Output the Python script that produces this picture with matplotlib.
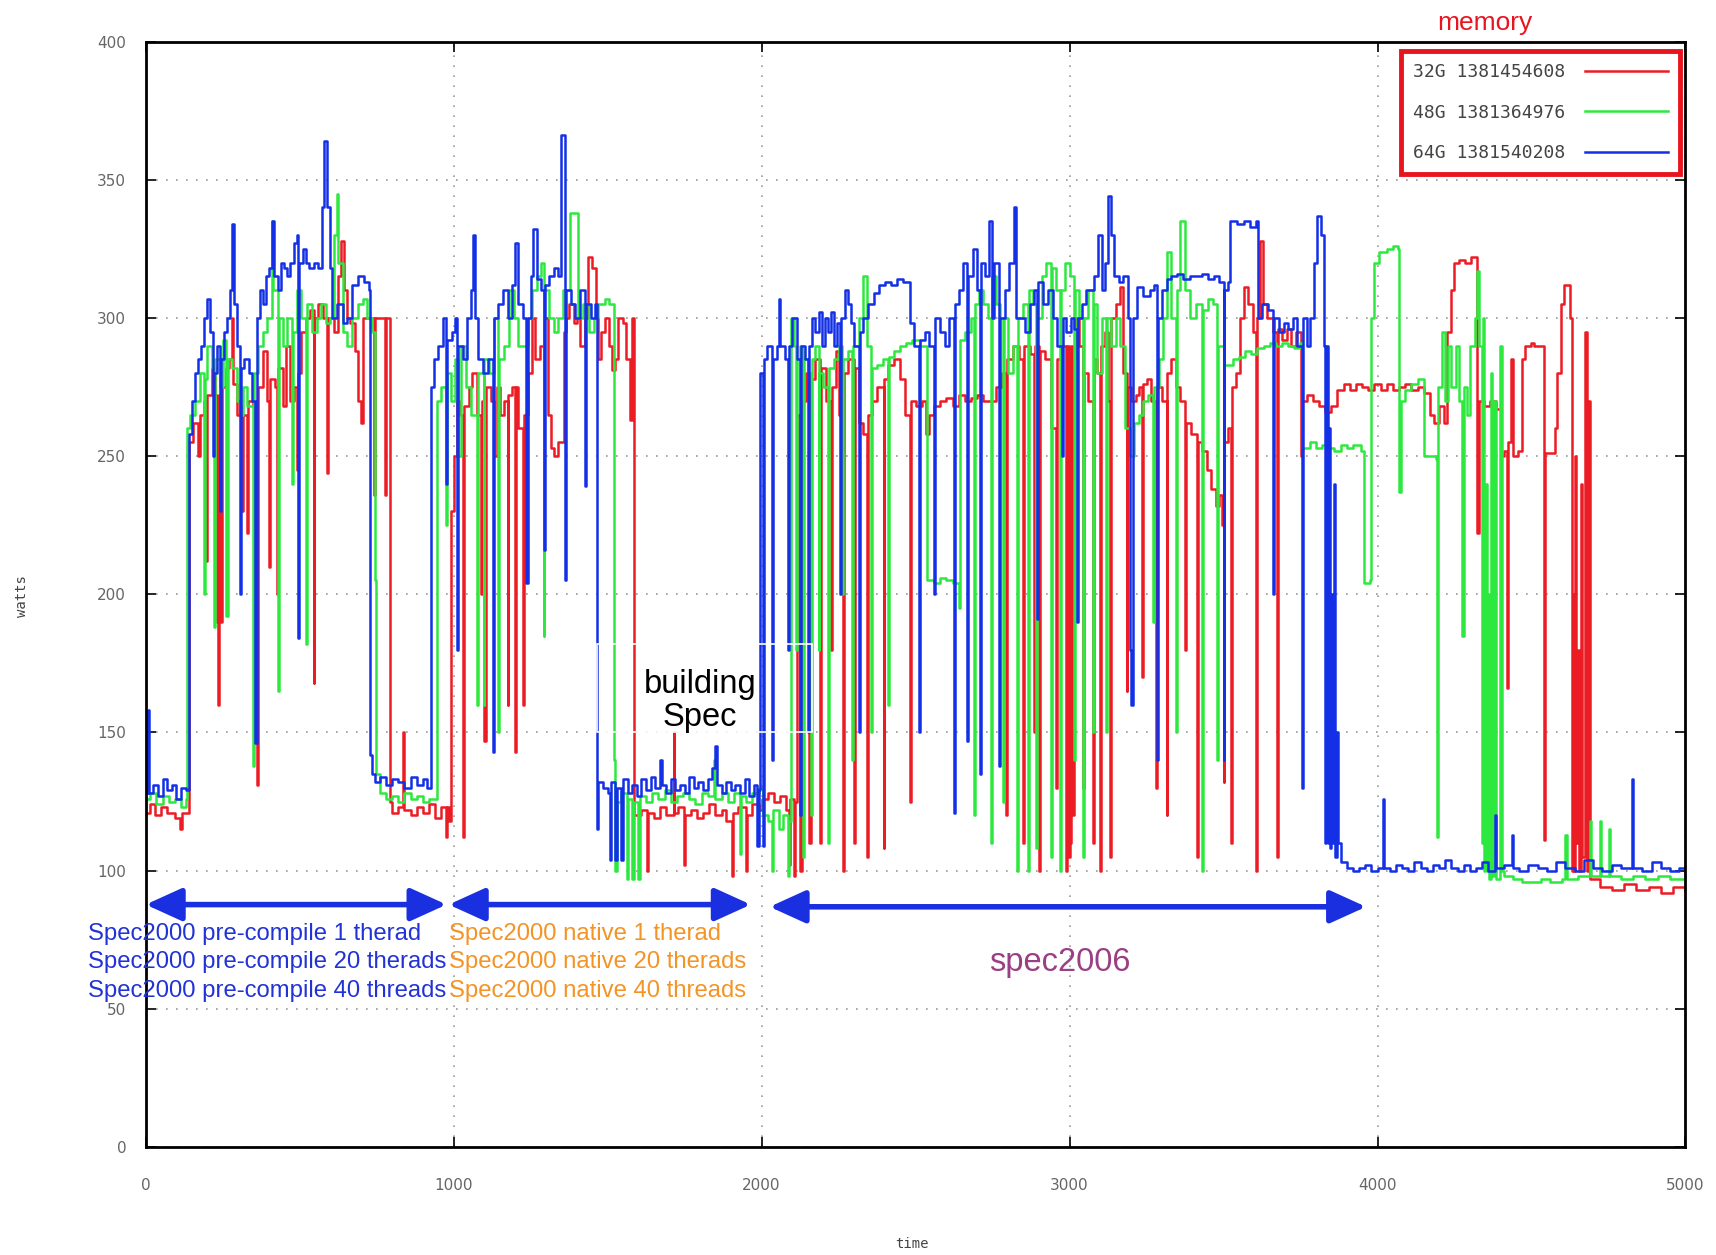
import matplotlib
matplotlib.use("Agg")
import matplotlib.pyplot as plt
from matplotlib.patches import Rectangle

# (time, watts) breakpoints, drawn as steps
red_pts = [
    (0, 121), (15, 124), (30, 120), (50, 123), (70, 121), (95, 119), (110, 115), (118, 121), (138, 121),
    (140, 255), (155, 262), (170, 250), (175, 265), (190, 270), (197, 212), (200, 272), (215, 282),
    (225, 272), (232, 190), (235, 160), (238, 272), (244, 190), (247, 275), (260, 282), (270, 285),
    (280, 300), (284, 276), (295, 265), (305, 268), (312, 230), (315, 265), (330, 222), (333, 270),
    (350, 268), (363, 131), (366, 275), (380, 288), (395, 270), (400, 210), (403, 278), (420, 275),
    (427, 200), (430, 282), (445, 268), (455, 290), (470, 270), (480, 275), (490, 245), (493, 280),
    (505, 295), (520, 300), (535, 303), (545, 168), (548, 300), (560, 305), (575, 300), (590, 244),
    (593, 300), (610, 295), (625, 315), (635, 328), (645, 310), (655, 300), (665, 298), (680, 288),
    (690, 270), (700, 262), (705, 300), (720, 300), (735, 300), (740, 236), (745, 300), (760, 300),
    (775, 300), (778, 236), (781, 300), (790, 300), (792, 125), (800, 121), (820, 123), (835, 150),
    (838, 122), (860, 120), (880, 123), (900, 121), (920, 124), (940, 119), (960, 123), (975, 112),
    (980, 123), (985, 118), (990, 230), (1000, 250), (1010, 270), (1020, 265), (1030, 112), (1035, 268),
    (1050, 275), (1060, 280), (1075, 265), (1090, 200), (1093, 270), (1100, 147), (1105, 275),
    (1120, 270), (1130, 250), (1140, 275), (1150, 265), (1165, 270), (1175, 160), (1178, 272),
    (1190, 275), (1200, 143), (1203, 275), (1210, 260), (1225, 160), (1228, 265), (1240, 280),
    (1255, 300), (1265, 285), (1280, 290), (1295, 300), (1305, 265), (1315, 253), (1325, 250),
    (1340, 255), (1357, 295), (1365, 300), (1375, 305), (1390, 298), (1400, 300), (1410, 290),
    (1425, 300), (1435, 322), (1450, 318), (1462, 300), (1470, 285), (1480, 295), (1490, 300),
    (1505, 290), (1515, 281), (1525, 285), (1535, 300), (1550, 298), (1560, 285), (1573, 263),
    (1580, 300), (1585, 120), (1610, 122), (1628, 100), (1631, 121), (1650, 119), (1670, 123),
    (1690, 120), (1714, 150), (1717, 121), (1730, 123), (1747, 102), (1750, 120), (1770, 122),
    (1790, 119), (1810, 121), (1830, 124), (1850, 120), (1870, 122), (1885, 118), (1904, 98),
    (1907, 121), (1925, 123), (1950, 100), (1953, 120), (1970, 124), (1990, 122), (2000, 126),
    (2020, 128), (2040, 125), (2060, 127), (2080, 122), (2090, 102), (2093, 126), (2105, 98),
    (2108, 125), (2115, 265), (2126, 100), (2130, 270), (2145, 280), (2155, 110), (2160, 278),
    (2175, 285), (2190, 110), (2194, 282), (2210, 270), (2225, 180), (2228, 275), (2240, 288),
    (2250, 265), (2265, 100), (2268, 280), (2280, 285), (2299, 110), (2302, 282), (2315, 262),
    (2330, 258), (2342, 105), (2345, 265), (2360, 270), (2375, 275), (2396, 108), (2399, 278),
    (2410, 283), (2430, 285), (2450, 278), (2465, 265), (2483, 125), (2486, 270), (2500, 268),
    (2520, 270), (2535, 258), (2545, 265), (2560, 268), (2580, 270), (2600, 271), (2620, 268),
    (2640, 272), (2660, 270), (2680, 271), (2700, 272), (2720, 270), (2740, 270), (2760, 275),
    (2780, 280), (2795, 120), (2798, 285), (2815, 290), (2835, 285), (2850, 110), (2853, 290),
    (2870, 287), (2885, 150), (2888, 290), (2900, 100), (2903, 288), (2920, 285), (2940, 260),
    (2955, 130), (2958, 285), (2975, 290), (2990, 100), (2993, 290), (2997, 105), (3000, 285),
    (3003, 110), (3006, 290), (3010, 120), (3013, 285), (3020, 300), (3030, 290), (3045, 130),
    (3048, 280), (3060, 270), (3075, 110), (3078, 285), (3090, 280), (3100, 100), (3103, 290),
    (3115, 295), (3125, 270), (3132, 105), (3135, 300), (3150, 305), (3165, 311), (3175, 280),
    (3185, 165), (3188, 275), (3200, 270), (3215, 272), (3225, 275), (3235, 170), (3238, 276),
    (3250, 278), (3265, 270), (3280, 130), (3283, 275), (3300, 270), (3315, 120), (3318, 280),
    (3330, 285), (3345, 275), (3360, 270), (3375, 180), (3378, 262), (3395, 258), (3414, 105),
    (3417, 255), (3430, 252), (3445, 245), (3460, 238), (3475, 232), (3485, 236), (3495, 225),
    (3500, 132), (3503, 255), (3515, 260), (3525, 110), (3528, 275), (3540, 280), (3555, 300),
    (3565, 311), (3580, 305), (3595, 295), (3605, 100), (3608, 300), (3620, 328), (3628, 305),
    (3640, 300), (3660, 295), (3675, 105), (3678, 296), (3690, 292), (3705, 296), (3720, 290),
    (3735, 295), (3750, 250), (3755, 270), (3770, 272), (3790, 270), (3810, 268), (3830, 266),
    (3850, 268), (3870, 274), (3890, 276), (3910, 274), (3930, 276), (3950, 275), (3970, 274),
    (3990, 276), (4010, 274), (4030, 276), (4050, 274), (4070, 275), (4090, 276), (4110, 274),
    (4130, 275), (4150, 273), (4172, 265), (4185, 262), (4200, 268), (4215, 262), (4226, 295),
    (4240, 310), (4248, 320), (4265, 321), (4285, 320), (4305, 322), (4323, 222), (4328, 270),
    (4345, 268), (4365, 270), (4385, 267), (4400, 250), (4412, 252), (4420, 166), (4424, 255),
    (4432, 285), (4440, 250), (4455, 252), (4470, 285), (4480, 290), (4498, 291), (4507, 290),
    (4540, 111), (4543, 251), (4578, 260), (4583, 280), (4595, 305), (4606, 312), (4626, 300),
    (4630, 100), (4634, 200), (4638, 100), (4642, 250), (4646, 110), (4650, 180), (4655, 100),
    (4660, 240), (4665, 105), (4675, 295), (4680, 100), (4684, 270), (4691, 97), (4724, 94),
    (4760, 93), (4800, 95), (4840, 93), (4880, 94), (4920, 92), (4960, 94), (5000, 93),
]

green_pts = [
    (0, 126), (15, 128), (35, 124), (55, 127), (75, 125), (95, 126), (115, 123), (130, 126),
    (133, 260), (145, 265), (160, 270), (175, 280), (188, 200), (191, 278), (200, 290), (215, 282),
    (222, 188), (225, 285), (240, 275), (250, 292), (262, 192), (266, 285), (280, 282), (295, 270),
    (305, 265), (315, 275), (330, 268), (350, 138), (353, 280), (365, 290), (380, 295), (395, 300),
    (410, 335), (415, 310), (431, 165), (434, 300), (445, 290), (460, 300), (475, 240), (478, 295),
    (490, 310), (505, 300), (520, 182), (523, 305), (540, 295), (555, 300), (570, 305), (585, 298),
    (600, 300), (612, 330), (620, 345), (626, 320), (640, 295), (655, 290), (670, 300), (690, 305),
    (705, 307), (720, 300), (735, 295), (746, 205), (749, 135), (760, 128), (780, 126), (800, 127),
    (820, 125), (840, 128), (860, 126), (880, 127), (900, 125), (920, 126), (946, 270), (960, 275),
    (975, 225), (978, 280), (990, 270), (1005, 285), (1015, 250), (1025, 290), (1040, 275),
    (1055, 265), (1075, 160), (1078, 280), (1097, 160), (1100, 285), (1115, 280), (1130, 300),
    (1145, 150), (1148, 285), (1165, 290), (1180, 310), (1195, 300), (1210, 290), (1225, 290),
    (1240, 300), (1255, 310), (1270, 315), (1285, 320), (1292, 185), (1295, 310), (1310, 300),
    (1325, 295), (1340, 300), (1355, 310), (1378, 338), (1405, 300), (1420, 305), (1440, 295),
    (1455, 300), (1470, 305), (1490, 307), (1505, 305), (1520, 140), (1523, 100), (1530, 125),
    (1545, 128), (1563, 97), (1567, 126), (1580, 97), (1585, 125), (1600, 97), (1606, 127),
    (1625, 125), (1645, 128), (1665, 126), (1685, 129), (1705, 125), (1725, 127), (1745, 128),
    (1765, 126), (1785, 124), (1805, 128), (1825, 127), (1845, 140), (1850, 126), (1870, 128),
    (1890, 125), (1910, 128), (1930, 106), (1933, 127), (1950, 125), (1970, 128), (1990, 130),
    (2005, 120), (2020, 118), (2034, 100), (2037, 122), (2055, 115), (2070, 120), (2085, 98),
    (2088, 118), (2095, 300), (2105, 290), (2112, 180), (2115, 285), (2125, 290), (2135, 105),
    (2138, 285), (2150, 280), (2160, 120), (2163, 285), (2175, 290), (2185, 180), (2188, 280),
    (2200, 275), (2215, 110), (2218, 282), (2235, 285), (2250, 290), (2262, 200), (2265, 285),
    (2280, 288), (2295, 140), (2298, 290), (2315, 300), (2330, 315), (2342, 290), (2355, 150),
    (2358, 282), (2375, 283), (2395, 285), (2410, 160), (2413, 286), (2430, 288), (2450, 290),
    (2470, 291), (2490, 292), (2515, 290), (2537, 205), (2560, 204), (2580, 206), (2600, 205),
    (2620, 204), (2640, 195), (2645, 292), (2660, 295), (2680, 300), (2690, 120), (2693, 305),
    (2705, 310), (2720, 305), (2735, 300), (2745, 110), (2748, 315), (2760, 305), (2775, 300),
    (2785, 125), (2788, 300), (2800, 280), (2815, 290), (2830, 100), (2833, 300), (2850, 305),
    (2865, 100), (2868, 310), (2880, 305), (2890, 108), (2893, 300), (2910, 315), (2925, 320),
    (2940, 105), (2943, 318), (2955, 310), (2970, 100), (2973, 310), (2985, 320), (3000, 315),
    (3015, 140), (3018, 310), (3030, 300), (3045, 105), (3048, 300), (3060, 310), (3075, 150),
    (3078, 305), (3090, 280), (3105, 300), (3118, 150), (3121, 300), (3135, 290), (3150, 300),
    (3165, 290), (3180, 260), (3197, 250), (3210, 262), (3225, 265), (3240, 270), (3255, 272),
    (3270, 190), (3273, 275), (3290, 285), (3305, 300), (3316, 324), (3330, 300), (3345, 150),
    (3348, 310), (3360, 335), (3375, 310), (3390, 300), (3410, 305), (3430, 100), (3433, 303),
    (3450, 307), (3465, 305), (3478, 140), (3482, 290), (3500, 283), (3515, 283), (3530, 285),
    (3550, 286), (3570, 288), (3590, 287), (3610, 289), (3630, 290), (3650, 291), (3670, 290),
    (3690, 291), (3710, 290), (3730, 289), (3748, 291), (3755, 253), (3780, 255), (3800, 253),
    (3820, 254), (3840, 253), (3860, 252), (3880, 254), (3900, 253), (3920, 254), (3945, 252),
    (3955, 204), (3975, 205), (3980, 300), (3990, 320), (4005, 324), (4030, 325), (4050, 326),
    (4068, 325), (4071, 237), (4076, 270), (4090, 274), (4110, 276), (4130, 278), (4150, 250),
    (4190, 249), (4193, 112), (4198, 275), (4210, 295), (4220, 270), (4228, 290), (4240, 275),
    (4255, 290), (4265, 270), (4275, 185), (4280, 275), (4290, 265), (4300, 290), (4315, 300),
    (4322, 317), (4330, 290), (4338, 110), (4342, 300), (4346, 100), (4350, 240), (4354, 100),
    (4358, 200), (4362, 97), (4368, 280), (4372, 98), (4378, 270), (4384, 97), (4399, 290),
    (4405, 100), (4410, 98), (4440, 97), (4470, 96), (4500, 96), (4530, 97), (4560, 96), (4600, 97),
    (4610, 113), (4614, 97), (4650, 98), (4691, 118), (4694, 98), (4724, 118), (4727, 98),
    (4751, 115), (4754, 98), (4790, 97), (4830, 98), (4870, 97), (4910, 98), (4950, 97), (5000, 97),
]

blue_pts = [
    (0, 128), (8, 158), (11, 128), (25, 131), (40, 127), (55, 133), (70, 129), (85, 131), (100, 126),
    (115, 130), (130, 129), (142, 258), (150, 270), (160, 280), (170, 285), (180, 290), (190, 300),
    (200, 307), (210, 295), (218, 250), (222, 280), (230, 290), (240, 230), (243, 285), (255, 295),
    (265, 300), (275, 310), (281, 334), (286, 305), (295, 290), (307, 200), (310, 282), (320, 285),
    (335, 280), (345, 270), (356, 146), (360, 300), (370, 310), (380, 305), (390, 315), (400, 318),
    (410, 335), (418, 315), (430, 310), (440, 320), (450, 318), (460, 315), (470, 320), (480, 327),
    (491, 330), (495, 184), (498, 320), (510, 325), (520, 320), (530, 318), (545, 320), (560, 318),
    (572, 340), (578, 364), (590, 340), (597, 318), (605, 300), (620, 305), (640, 298), (655, 300),
    (670, 312), (690, 315), (710, 313), (725, 310), (730, 142), (735, 135), (745, 132), (760, 134),
    (780, 131), (800, 133), (820, 132), (840, 130), (860, 134), (880, 131), (900, 133), (915, 130),
    (925, 275), (935, 285), (950, 290), (965, 300), (975, 240), (980, 292), (995, 295), (1005, 300),
    (1010, 180), (1013, 290), (1030, 285), (1045, 300), (1055, 310), (1062, 330), (1068, 300),
    (1080, 285), (1095, 280), (1110, 285), (1128, 143), (1132, 300), (1145, 305), (1160, 310),
    (1175, 300), (1190, 312), (1200, 327), (1210, 305), (1225, 300), (1236, 204), (1240, 300),
    (1250, 315), (1258, 332), (1270, 314), (1285, 310), (1295, 216), (1298, 312), (1310, 315),
    (1325, 318), (1340, 315), (1350, 366), (1362, 205), (1365, 310), (1380, 305), (1395, 300),
    (1410, 310), (1427, 239), (1430, 305), (1445, 300), (1458, 305), (1465, 115), (1470, 132),
    (1485, 130), (1500, 128), (1508, 104), (1512, 132), (1525, 104), (1530, 130), (1545, 104),
    (1550, 133), (1565, 128), (1580, 131), (1595, 127), (1610, 133), (1625, 129), (1640, 134),
    (1655, 130), (1671, 140), (1675, 131), (1690, 128), (1705, 133), (1720, 129), (1735, 131),
    (1750, 128), (1765, 134), (1780, 130), (1795, 132), (1810, 129), (1825, 133), (1840, 137),
    (1850, 145), (1856, 131), (1870, 128), (1885, 132), (1900, 129), (1915, 131), (1930, 128),
    (1945, 133), (1960, 127), (1975, 131), (1985, 109), (1990, 129), (1996, 280), (2005, 109),
    (2008, 285), (2018, 290), (2034, 140), (2038, 285), (2050, 290), (2055, 307), (2060, 290),
    (2075, 285), (2087, 180), (2090, 290), (2100, 300), (2115, 285), (2125, 120), (2128, 290),
    (2140, 285), (2150, 150), (2153, 290), (2163, 300), (2175, 295), (2185, 302), (2195, 290),
    (2205, 300), (2215, 295), (2225, 302), (2235, 290), (2245, 298), (2255, 200), (2258, 300),
    (2270, 310), (2280, 305), (2290, 298), (2300, 290), (2315, 150), (2318, 295), (2330, 300),
    (2345, 305), (2364, 309), (2380, 312), (2400, 313), (2420, 312), (2440, 314), (2460, 313),
    (2483, 298), (2495, 290), (2510, 150), (2513, 292), (2530, 295), (2545, 290), (2560, 200),
    (2563, 300), (2580, 295), (2595, 290), (2610, 300), (2624, 121), (2627, 305), (2640, 310),
    (2655, 320), (2667, 147), (2670, 315), (2685, 325), (2700, 310), (2710, 135), (2713, 320),
    (2725, 315), (2740, 335), (2748, 300), (2755, 320), (2770, 138), (2773, 300), (2790, 310),
    (2805, 320), (2818, 340), (2825, 300), (2840, 300), (2855, 295), (2870, 305), (2885, 310),
    (2895, 191), (2898, 313), (2915, 305), (2930, 310), (2945, 300), (2960, 290), (2975, 250),
    (2978, 300), (2990, 295), (3005, 300), (3015, 296), (3025, 190), (3028, 300), (3040, 305),
    (3055, 310), (3067, 310), (3080, 315), (3094, 330), (3105, 310), (3115, 320), (3125, 344),
    (3133, 330), (3145, 315), (3160, 313), (3175, 315), (3190, 300), (3197, 180), (3201, 160),
    (3206, 300), (3220, 311), (3240, 308), (3260, 310), (3275, 312), (3284, 140), (3288, 300),
    (3300, 310), (3315, 314), (3330, 315), (3350, 316), (3370, 314), (3390, 315), (3410, 315),
    (3430, 316), (3450, 314), (3470, 315), (3485, 313), (3500, 140), (3503, 310), (3515, 313),
    (3522, 335), (3545, 334), (3565, 335), (3585, 333), (3605, 335), (3612, 300), (3625, 305),
    (3645, 303), (3660, 200), (3663, 300), (3680, 295), (3695, 298), (3710, 296), (3725, 300),
    (3740, 290), (3755, 130), (3758, 300), (3770, 290), (3782, 300), (3795, 320), (3804, 337),
    (3815, 330), (3825, 290), (3830, 110), (3834, 290), (3838, 110), (3842, 260), (3846, 108),
    (3850, 200), (3855, 110), (3858, 240), (3862, 105), (3868, 150), (3872, 110), (3880, 103),
    (3900, 101), (3920, 100), (3940, 101), (3960, 102), (3980, 100), (4000, 101), (4018, 126),
    (4021, 101), (4040, 100), (4060, 102), (4080, 101), (4100, 100), (4120, 103), (4140, 101),
    (4160, 100), (4180, 102), (4200, 101), (4220, 104), (4240, 101), (4260, 100), (4280, 102),
    (4300, 100), (4320, 101), (4340, 103), (4360, 100), (4383, 120), (4386, 101), (4410, 102),
    (4437, 113), (4440, 101), (4460, 100), (4490, 102), (4520, 101), (4550, 100), (4580, 103),
    (4610, 101), (4640, 100), (4670, 104), (4700, 101), (4730, 100), (4760, 102), (4790, 101),
    (4827, 133), (4830, 101), (4860, 100), (4890, 103), (4920, 101), (4950, 100), (4980, 101),
    (5000, 100),
]

labels = ["32G 1381454608", "48G 1381364976", "64G 1381540208"]
colors = ["#ec1c24", "#2de83f", "#1430e6"]

fig = plt.figure(figsize=(17.16, 12.55), dpi=100)
ax = fig.add_axes([0.0849, 0.0861, 0.8973, 0.8808])

for pts, lab, col in zip([red_pts, green_pts, blue_pts], labels, colors):
    t, w = zip(*pts)
    ax.plot(t, w, drawstyle="steps-post", color=col, lw=1.8, label=lab)

ax.set_xlim(0, 5000)
ax.set_ylim(0, 400)
ax.set_xticks(range(0, 5001, 1000))
ax.set_yticks(range(0, 401, 50))
ax.grid(True, color="#999999", linestyle=(0, (1, 5)), linewidth=1.2)
ax.tick_params(direction="in", length=7, width=1.2, top=True, right=True,
               labelsize=11, labelcolor="#666666")
ax.tick_params(axis="x", pad=22)
ax.tick_params(axis="y", pad=14)
for s in ax.spines.values():
    s.set_linewidth(2)

fig.text(22 / 1716, 1 - 596 / 1255, "watts", rotation=90, fontsize=10,
         color="#444444", ha="center", va="center", family="DejaVu Sans Mono")
fig.text(912 / 1716, 1 - 1244 / 1255, "time", fontsize=10, color="#444444",
         ha="center", va="center", family="DejaVu Sans Mono")

leg = ax.legend(loc="upper right", bbox_to_anchor=(0.9965, 0.991), markerfirst=False,
                fancybox=False, framealpha=1, handlelength=4.6, handletextpad=1.1,
                labelspacing=1.25, borderpad=0.65, borderaxespad=0,
                prop={"family": "DejaVu Sans Mono", "size": 13})
leg.get_frame().set_edgecolor("#e8141e")
leg.get_frame().set_linewidth(3.5)
for txt in leg.get_texts():
    txt.set_color("#444444")
ax.text(0.87, 1.017, "memory", transform=ax.transAxes, color="#e8141e",
        fontsize=19, ha="center", va="center", family="Liberation Sans")

# white box left over around the label
ax.add_patch(Rectangle((1464, 150), 700, 32, fill=False, edgecolor="white", lw=1.2, zorder=3))

arrow_kw = dict(arrowstyle="<|-|>,head_length=1.1,head_width=0.5", color="#1a2fe0",
                lw=4, mutation_scale=20, shrinkA=0, shrinkB=0)
for x0, x1, y in [(0, 977, 87.7), (984, 1965, 87.7), (2026, 3963, 86.9)]:
    ax.annotate("", xy=(x1, y), xytext=(x0, y), arrowprops=arrow_kw, annotation_clip=False)

blue_txt = ["Spec2000 pre-compile 1 therad", "Spec2000 pre-compile 20 therads",
            "Spec2000 pre-compile 40 threads"]
orange_txt = ["Spec2000 native 1 therad", "Spec2000 native 20 therads",
              "Spec2000 native 40 threads"]
for i, y in enumerate([77.2, 66.9, 56.6]):
    ax.text(-188, y, blue_txt[i], color="#2233d6", fontsize=17.2, va="center",
            family="Liberation Sans", clip_on=False)
    ax.text(984, y, orange_txt[i], color="#f39426", fontsize=17.2, va="center",
            family="Liberation Sans", clip_on=False)

ax.text(2967, 66.6, "spec2006", color="#9a3f82", fontsize=23.5, ha="center", va="center",
        family="Liberation Sans")
ax.text(1800, 161.3, "building\nSpec", color="black", fontsize=23.5, ha="center", va="center",
        family="Liberation Sans", linespacing=1.1)

fig.savefig("out.png", dpi=100)
